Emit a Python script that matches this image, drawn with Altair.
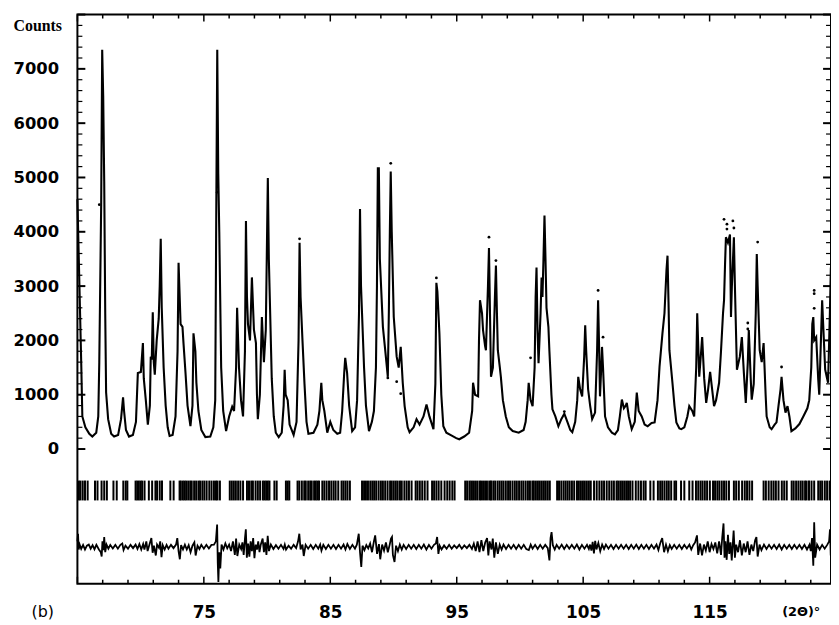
import altair as alt
import pandas as pd

# ---- calculated profile: (2theta, counts) vertices ----
calc_pts = [
    (65.00, 4600), (65.16, 3000), (65.31, 1500), (65.39, 600), (65.63, 400), (65.94, 280), (66.18, 230), (66.49, 300),
    (66.65, 600), (66.73, 1600), (66.88, 4500), (66.96, 7350), (67.04, 6500), (67.12, 4930), (67.20, 2500), (67.27, 1040),
    (67.43, 550), (67.67, 280), (67.90, 230), (68.22, 260), (68.45, 550), (68.61, 950), (68.69, 700), (68.84, 350),
    (69.08, 230), (69.39, 260), (69.63, 500), (69.78, 1400), (70.02, 1420), (70.18, 1950), (70.25, 1300), (70.41, 900),
    (70.57, 450), (70.73, 800), (70.80, 1700), (70.88, 1650), (70.96, 2520), (71.04, 1600), (71.12, 1370), (71.27, 2000),
    (71.43, 2400), (71.51, 3000), (71.59, 3870), (71.67, 2600), (71.82, 1500), (71.98, 800), (72.14, 400), (72.29, 240),
    (72.53, 260), (72.76, 600), (72.92, 1800), (73.00, 3430), (73.16, 2300), (73.31, 2250), (73.39, 1950), (73.55, 1400),
    (73.71, 800), (73.94, 420), (74.10, 800), (74.18, 2130), (74.33, 1800), (74.41, 1220), (74.57, 700), (74.80, 350),
    (75.12, 220), (75.51, 230), (75.75, 400), (75.90, 900), (75.98, 4300), (76.06, 7350), (76.14, 5070), (76.22, 4000),
    (76.37, 1500), (76.53, 700), (76.76, 330), (77.00, 600), (77.24, 780), (77.39, 700), (77.55, 1500), (77.63, 2600),
    (77.78, 1500), (77.94, 900), (78.10, 600), (78.25, 1800), (78.33, 4200), (78.41, 2800), (78.49, 2300), (78.65, 2000),
    (78.80, 3160), (78.96, 2200), (79.12, 1950), (79.20, 1000), (79.27, 550), (79.43, 1000), (79.59, 2430), (79.75, 1600),
    (79.90, 2200), (80.06, 4990), (80.14, 3500), (80.22, 2740), (80.37, 1300), (80.53, 600), (80.69, 300), (80.92, 220),
    (81.16, 300), (81.31, 800), (81.39, 1460), (81.47, 1000), (81.63, 900), (81.78, 450), (82.10, 260), (82.33, 500),
    (82.49, 2000), (82.57, 3800), (82.65, 2800), (82.80, 2000), (82.96, 1200), (83.12, 500), (83.27, 280), (83.67, 300),
    (83.98, 450), (84.14, 700), (84.29, 1220), (84.37, 900), (84.53, 700), (84.76, 300), (85.00, 500), (85.24, 350),
    (85.55, 280), (85.78, 300), (85.94, 700), (86.10, 1400), (86.18, 1680), (86.33, 1400), (86.49, 800), (86.73, 330),
    (86.96, 400), (87.12, 900), (87.27, 2500), (87.35, 4420), (87.43, 3000), (87.51, 2500), (87.67, 1500), (87.82, 800),
    (88.06, 330), (88.29, 500), (88.45, 700), (88.61, 1500), (88.69, 3000), (88.76, 5170), (88.84, 5170), (88.92, 3500),
    (89.16, 2250), (89.31, 1900), (89.55, 1330), (89.63, 2500), (89.71, 4000), (89.78, 5110), (89.86, 4000), (90.02, 2430),
    (90.25, 1700), (90.41, 1500), (90.57, 1880), (90.73, 1220), (90.88, 790), (91.12, 400), (91.27, 310), (91.59, 400),
    (91.82, 550), (92.06, 450), (92.37, 600), (92.61, 820), (92.84, 600), (93.16, 365), (93.31, 1200), (93.39, 3060),
    (93.47, 2900), (93.63, 2130), (93.78, 1000), (93.94, 420), (94.18, 300), (94.57, 250), (94.96, 200), (95.20, 180),
    (95.59, 230), (95.98, 300), (96.22, 700), (96.29, 1220), (96.45, 1000), (96.69, 970), (96.76, 2000), (96.84, 2740),
    (97.00, 2500), (97.08, 2190), (97.24, 1900), (97.31, 1820), (97.47, 3000), (97.55, 3700), (97.63, 2500), (97.71, 1330),
    (97.86, 1500), (98.02, 2800), (98.10, 3380), (98.18, 2500), (98.25, 1820), (98.41, 1500), (98.49, 1330), (98.65, 900),
    (98.88, 600), (99.12, 400), (99.43, 330), (99.90, 300), (100.29, 350), (100.45, 500), (100.61, 900), (100.69, 1220),
    (100.84, 900), (101.00, 790), (101.16, 1500), (101.24, 2800), (101.31, 3340), (101.39, 2200), (101.47, 1580), (101.63, 2500),
    (101.71, 3160), (101.78, 2800), (101.86, 3500), (101.94, 4300), (102.02, 3500), (102.10, 2600), (102.25, 2250), (102.33, 1800),
    (102.49, 1000), (102.57, 730), (102.80, 600), (103.04, 420), (103.27, 550), (103.51, 650), (103.75, 500), (103.98, 350),
    (104.14, 310), (104.37, 500), (104.53, 900), (104.61, 1330), (104.76, 1100), (104.92, 970), (105.08, 1700), (105.16, 2280),
    (105.24, 1800), (105.39, 1100), (105.55, 800), (105.71, 550), (105.94, 670), (106.10, 1800), (106.18, 2740), (106.25, 2000),
    (106.33, 970), (106.41, 1400), (106.49, 1880), (106.57, 1500), (106.73, 600), (106.96, 400), (107.27, 300), (107.51, 270),
    (107.75, 350), (107.90, 600), (108.06, 910), (108.22, 750), (108.37, 800), (108.45, 850), (108.61, 600), (108.84, 365),
    (109.08, 500), (109.24, 1040), (109.39, 700), (109.63, 600), (109.86, 450), (110.10, 420), (110.41, 480), (110.65, 490),
    (110.88, 900), (111.04, 1520), (111.27, 2130), (111.43, 2500), (111.59, 3300), (111.67, 3560), (111.75, 2700), (111.82, 1820),
    (112.06, 1220), (112.22, 800), (112.37, 490), (112.61, 380), (112.76, 365), (113.00, 400), (113.24, 600), (113.39, 790),
    (113.63, 700), (113.78, 600), (113.94, 1500), (114.02, 2500), (114.10, 1900), (114.18, 1330), (114.33, 1800), (114.41, 2060),
    (114.57, 1300), (114.73, 850), (114.88, 1100), (115.04, 1420), (115.20, 1100), (115.35, 790), (115.51, 900), (115.75, 1220),
    (115.90, 1800), (116.06, 2500), (116.14, 2740), (116.22, 3400), (116.29, 3900), (116.45, 3800), (116.61, 3950), (116.69, 2430),
    (116.76, 3000), (116.92, 3900), (117.00, 3000), (117.16, 1460), (117.39, 1700), (117.55, 2060), (117.71, 1400), (117.86, 850),
    (118.02, 1600), (118.10, 2190), (118.25, 1300), (118.33, 910), (118.49, 1200), (118.65, 2500), (118.73, 3590), (118.80, 3000),
    (118.96, 1820), (119.12, 1600), (119.27, 1950), (119.43, 1000), (119.51, 600), (119.75, 400), (119.90, 365), (120.14, 450),
    (120.29, 490), (120.45, 800), (120.61, 1100), (120.69, 1330), (120.84, 900), (121.00, 670), (121.16, 790), (121.31, 600),
    (121.47, 330), (121.78, 380), (122.10, 460), (122.41, 600), (122.73, 750), (122.88, 900), (123.04, 1500), (123.12, 2300),
    (123.20, 2430), (123.27, 2000), (123.43, 2060), (123.59, 1280), (123.67, 1000), (123.75, 1600), (123.90, 2740), (123.98, 2300),
    (124.14, 1460), (124.29, 1300), (124.37, 1220), (124.51, 2500), (124.59, 3340),
]
calc_t = [p[0] for p in calc_pts]
calc_c = [p[1] for p in calc_pts]

# ---- observed points that stand off the calculated line ----
obs_t = [66.73, 76.06, 82.57, 89.55, 89.78, 90.25, 90.57, 93.39, 97.55, 98.10, 100.84, 103.51,
         106.18, 106.57, 116.14, 116.37, 116.37, 116.84, 116.92, 118.02, 118.02, 118.80, 120.69,
         123.27, 123.27, 123.27]
obs_c = [4500, 4730, 3870, 1310, 5260, 1240, 1020, 3150, 3900, 3470, 1680, 690,
         2920, 2060, 4230, 4140, 4050, 4200, 4070, 2320, 2210, 3810, 1510,
         2920, 2860, 2590]

# ---- difference curve vertices (2theta, offset counts) ----
diff_pts = [
    (65.00, -1700), (65.05, -1560), (65.10, -1850), (65.18, -1760), (65.30, -1840), (65.45, -1765), (65.60, -1850), (65.75, -1780),
    (65.90, -1760), (66.05, -1835), (66.20, -1770), (66.35, -1845), (66.50, -1765), (66.70, -1850), (66.85, -1900), (66.92, -1980),
    (66.98, -1700), (67.05, -1860), (67.12, -1620), (67.20, -1900), (67.30, -1760), (67.45, -1835), (67.60, -1765), (67.80, -1830),
    (68.00, -1765), (68.20, -1835), (68.40, -1765), (68.55, -1740), (68.65, -1860), (68.80, -1780), (69.00, -1835), (69.20, -1765),
    (69.40, -1825), (69.60, -1760), (69.75, -1840), (69.90, -1750), (70.05, -1850), (70.20, -1750), (70.30, -1850), (70.45, -1700),
    (70.55, -1880), (70.70, -1760), (70.85, -1640), (70.95, -1910), (71.05, -1780), (71.20, -1960), (71.30, -1760), (71.45, -1820),
    (71.55, -1700), (71.65, -1990), (71.75, -1770), (71.90, -1850), (72.05, -1765), (72.20, -1835), (72.40, -1765), (72.60, -1825),
    (72.80, -1760), (72.90, -1640), (73.00, -1880), (73.10, -2030), (73.20, -1770), (73.35, -1850), (73.50, -1760), (73.65, -1850),
    (73.80, -1770), (73.95, -1900), (74.10, -1780), (74.25, -1720), (74.35, -1960), (74.50, -1780), (74.65, -1840), (74.80, -1765),
    (75.00, -1835), (75.20, -1765), (75.40, -1830), (75.60, -1765), (75.80, -1760), (75.95, -1700), (76.05, -1390), (76.10, -2100),
    (76.15, -2450), (76.22, -1900), (76.30, -2200), (76.40, -1760), (76.55, -1850), (76.70, -1740), (76.85, -1830), (77.00, -1760),
    (77.15, -1880), (77.30, -1700), (77.45, -1950), (77.55, -1650), (77.65, -1970), (77.80, -1760), (77.95, -1840), (78.05, -1720),
    (78.15, -1950), (78.25, -1650), (78.32, -1480), (78.40, -2000), (78.50, -1740), (78.60, -1980), (78.70, -1700), (78.80, -1880),
    (78.90, -1640), (79.00, -2010), (79.10, -1760), (79.20, -1850), (79.30, -1700), (79.40, -1900), (79.50, -1760), (79.65, -1650),
    (79.75, -1900), (79.85, -1720), (79.95, -1950), (80.05, -1600), (80.15, -1880), (80.30, -1760), (80.50, -1840), (80.70, -1770),
    (80.90, -1835), (81.10, -1765), (81.30, -1840), (81.40, -1760), (81.50, -1850), (81.70, -1780), (81.90, -1835), (82.10, -1765),
    (82.30, -1825), (82.45, -1700), (82.55, -1560), (82.65, -1850), (82.80, -1760), (82.90, -1970), (83.05, -1765), (83.25, -1835),
    (83.45, -1765), (83.65, -1840), (83.85, -1765), (84.05, -1835), (84.20, -1760), (84.30, -1870), (84.45, -1765), (84.65, -1840),
    (84.85, -1765), (85.05, -1835), (85.25, -1765), (85.45, -1840), (85.65, -1765), (85.85, -1835), (86.05, -1760), (86.20, -1850),
    (86.35, -1750), (86.55, -1840), (86.75, -1765), (86.95, -1835), (87.10, -1760), (87.25, -1560), (87.35, -1900), (87.45, -2170),
    (87.55, -1780), (87.70, -1860), (87.85, -1770), (88.00, -1830), (88.15, -1740), (88.30, -1900), (88.45, -1700), (88.55, -1590),
    (88.70, -1930), (88.85, -1750), (88.95, -2030), (89.10, -1760), (89.25, -1870), (89.40, -1720), (89.55, -1900), (89.70, -1760),
    (89.80, -1650), (89.88, -1620), (89.95, -1950), (90.08, -2080), (90.20, -1780), (90.35, -1880), (90.50, -1760), (90.65, -1850),
    (90.80, -1765), (91.00, -1840), (91.20, -1765), (91.40, -1835), (91.60, -1765), (91.80, -1840), (92.00, -1765), (92.20, -1835),
    (92.40, -1760), (92.60, -1850), (92.80, -1765), (93.00, -1835), (93.20, -1765), (93.35, -1740), (93.45, -1620), (93.55, -1930),
    (93.65, -1780), (93.80, -1850), (94.00, -1775), (94.20, -1835), (94.40, -1765), (94.60, -1835), (94.80, -1775), (95.00, -1825),
    (95.20, -1765), (95.40, -1835), (95.60, -1775), (95.80, -1825), (96.00, -1765), (96.20, -1840), (96.35, -1740), (96.50, -1880),
    (96.65, -1700), (96.80, -1900), (96.95, -1680), (97.10, -1880), (97.25, -1720), (97.40, -1640), (97.50, -1960), (97.60, -1700),
    (97.75, -1850), (97.85, -1650), (97.97, -2000), (98.10, -1720), (98.25, -1930), (98.40, -1760), (98.55, -1850), (98.70, -1760),
    (98.90, -1840), (99.10, -1765), (99.30, -1835), (99.50, -1765), (99.70, -1840), (99.90, -1765), (100.10, -1835), (100.30, -1765),
    (100.50, -1840), (100.70, -1860), (100.85, -1760), (101.00, -1835), (101.20, -1765), (101.40, -1840), (101.60, -1765), (101.80, -1835),
    (102.00, -1765), (102.20, -1825), (102.33, -2050), (102.42, -1640), (102.50, -1530), (102.60, -1770), (102.75, -1850), (102.90, -1765),
    (103.10, -1835), (103.30, -1760), (103.50, -1840), (103.70, -1765), (103.90, -1835), (104.10, -1765), (104.30, -1835), (104.50, -1760),
    (104.70, -1850), (104.90, -1765), (105.10, -1835), (105.30, -1765), (105.45, -1840), (105.55, -1760), (105.65, -1870), (105.75, -1710),
    (105.85, -1920), (105.95, -1690), (106.05, -1850), (106.20, -1730), (106.35, -1880), (106.50, -1760), (106.65, -1840), (106.80, -1760),
    (107.00, -1835), (107.20, -1765), (107.40, -1840), (107.60, -1765), (107.80, -1835), (108.00, -1765), (108.20, -1835), (108.40, -1765),
    (108.60, -1840), (108.80, -1765), (109.00, -1835), (109.20, -1760), (109.40, -1840), (109.60, -1765), (109.80, -1835), (110.00, -1765),
    (110.20, -1840), (110.40, -1765), (110.60, -1835), (110.80, -1760), (110.95, -1860), (111.10, -1730), (111.25, -1640), (111.40, -1900),
    (111.55, -1760), (111.70, -1880), (111.85, -1770), (112.00, -1840), (112.20, -1765), (112.40, -1835), (112.60, -1765), (112.80, -1840),
    (113.00, -1765), (113.20, -1830), (113.40, -1760), (113.55, -1850), (113.70, -1770), (113.85, -1720), (114.00, -1590), (114.10, -1950),
    (114.25, -1740), (114.40, -1960), (114.55, -1760), (114.70, -1870), (114.85, -1700), (115.00, -1900), (115.15, -1750), (115.30, -1840),
    (115.45, -1720), (115.60, -1920), (115.75, -1700), (115.90, -1950), (116.00, -1620), (116.10, -1370), (116.18, -2000), (116.25, -1700),
    (116.35, -2040), (116.45, -1580), (116.55, -1930), (116.65, -1720), (116.75, -2050), (116.90, -1500), (117.00, -2000), (117.10, -1760),
    (117.25, -1900), (117.40, -1680), (117.55, -1960), (117.70, -1740), (117.85, -1900), (118.00, -1700), (118.15, -1950), (118.30, -1760),
    (118.45, -1880), (118.60, -1680), (118.70, -1620), (118.80, -1980), (118.95, -1760), (119.10, -1860), (119.30, -1760), (119.50, -1840),
    (119.70, -1765), (119.90, -1835), (120.10, -1765), (120.30, -1840), (120.50, -1760), (120.70, -1850), (120.90, -1765), (121.10, -1835),
    (121.30, -1765), (121.50, -1840), (121.70, -1765), (121.90, -1835), (122.10, -1765), (122.30, -1840), (122.50, -1765), (122.70, -1850),
    (122.90, -1760), (123.00, -1880), (123.10, -1640), (123.20, -2150), (123.27, -1350), (123.35, -2000), (123.50, -1760), (123.70, -1850),
    (123.90, -1765), (124.10, -1835), (124.30, -1765), (124.45, -1700), (124.52, -1480), (124.58, -1960),
]
diff_t = [p[0] for p in diff_pts]
diff_c = [p[1] for p in diff_pts]

# ---- Bragg reflection positions (2theta) ----
bragg_t = [65.12, 65.24, 65.42, 65.60, 65.81, 66.39, 66.59, 66.91, 67.12, 67.33, 67.85, 68.11, 68.63, 68.82, 68.95,
           69.60, 69.73, 69.86, 70.00, 70.12, 70.31, 70.65, 70.91, 71.17, 71.30, 71.51, 71.69, 72.35, 72.61,
           73.08, 73.18, 73.34, 73.47, 73.60, 73.76, 73.92, 74.04, 74.23, 74.39, 74.57, 74.70, 74.88, 75.04, 75.22,
           75.43, 75.61, 75.80, 75.96, 76.08, 76.27, 77.05, 77.21, 77.37, 77.53, 77.71, 77.89, 78.10, 78.41, 78.57,
           78.75, 78.88, 79.09, 79.27, 79.45, 79.67, 79.80, 79.93, 80.06, 80.19, 80.58, 80.76, 81.49, 81.63, 81.76,
           82.41, 82.55, 82.75, 82.94, 83.06, 83.25, 83.41, 83.53, 83.72, 83.85, 83.98, 84.11, 84.37, 84.53, 84.71,
           84.90, 85.08, 85.26, 85.42, 85.63, 85.89, 86.04, 86.20, 86.36, 86.55, 87.51, 87.67, 87.82, 87.98, 88.16,
           88.32, 88.47, 88.63, 88.82, 89.00, 89.16, 89.34, 89.53, 89.73, 89.86, 90.02, 90.18, 90.33, 90.51, 90.65,
           90.86, 91.04, 91.22, 91.43, 91.75, 91.90, 92.08, 92.27, 92.47, 92.69, 93.05, 93.21, 93.39, 93.57, 93.78,
           94.04, 94.25, 94.44, 94.65, 94.83, 95.67, 95.82, 96.00, 96.14, 96.29, 96.45, 96.61, 96.79, 96.92, 97.08,
           97.24, 97.39, 97.57, 97.71, 97.89, 98.04, 98.23, 98.39, 98.55, 98.70, 98.88, 99.06, 99.22, 99.41, 99.59,
           99.75, 99.93, 100.11, 100.27, 100.45, 100.63, 100.79, 100.98, 101.10, 101.26, 101.42, 101.57, 101.73, 101.89,
           102.04, 102.20, 102.36, 102.94, 103.09, 103.27, 103.45, 103.61, 103.77, 103.93, 104.11, 104.29, 104.51,
           104.66, 104.82, 104.98, 105.13, 105.29, 105.45, 105.60, 105.86, 106.07, 106.28, 106.47, 106.65, 106.86,
           107.06, 107.25, 107.43, 107.64, 107.77, 107.93, 108.08, 108.24, 108.40, 108.55, 108.71, 108.90, 109.16,
           109.37, 109.57, 109.78, 109.94, 110.31, 110.57, 110.91, 111.09, 111.25, 111.43, 111.61, 111.77, 111.96,
           112.22, 112.35, 112.74, 113.00, 113.39, 113.65, 113.92, 114.10, 114.28, 114.44, 114.62, 114.80, 115.02,
           115.27, 115.43, 115.61, 115.77, 115.96, 116.14, 116.32, 116.53, 116.92, 117.10, 117.31, 117.57, 117.78,
           117.96, 118.15, 118.36, 119.27, 119.45, 119.67, 119.88, 120.06, 120.24, 120.45, 120.71, 120.90, 121.10,
           121.49, 121.65, 121.84, 122.02, 122.20, 122.36, 122.55, 122.67, 122.86, 123.06, 123.27, 123.59, 123.75,
           123.90, 124.11, 124.29, 124.49]

# ---- axis tick values ----
x_labels = [75, 85, 95, 105, 115]
x_major_ticks = [65, 75, 85, 95, 105, 115]
x_minor_ticks = [67, 69, 71, 73, 77, 79, 81, 83, 87, 89, 91, 93, 97, 99, 101, 103, 107, 109, 111, 113, 117, 119, 121, 123]
y_labels = [0, 1000, 2000, 3000, 4000, 5000, 6000, 7000]
y_major_ticks = [0, 1000, 2000, 3000, 4000, 5000, 6000, 7000, 8000]
y_minor_ticks = [v for v in range(200, 8000, 200) if v % 1000 != 0]

X_DOMAIN = [65, 124.6]
Y_DOMAIN = [-2480, 8000]
W, H = 760, 574

xs = alt.Scale(domain=X_DOMAIN, nice=False, zero=False)
ys = alt.Scale(domain=Y_DOMAIN, nice=False, zero=False)

calc_df = pd.DataFrame({"t": calc_t, "c": calc_c})
obs_df = pd.DataFrame({"t": obs_t, "c": obs_c})
diff_df = pd.DataFrame({"t": diff_t, "c": diff_c})
bragg_df = pd.DataFrame({"t": bragg_t})

lab_font = "DejaVu Sans"

calc_line = alt.Chart(calc_df).mark_line(color="black", strokeWidth=2.1).encode(
    x=alt.X("t:Q", scale=xs,
            axis=alt.Axis(values=x_labels, title=None, grid=False, domain=False, ticks=False, tickSize=0,
                          labelPadding=21, labelFont=lab_font, labelFontWeight="bold", labelFontSize=17,
                          labelColor="black", format="d")),
    y=alt.Y("c:Q", scale=ys,
            axis=alt.Axis(values=y_labels, title=None, grid=False, domain=False, ticks=False, tickSize=0,
                          labelPadding=19, labelFont=lab_font, labelFontWeight="bold", labelFontSize=16.5,
                          labelColor="black", format="d")),
)

obs_pts = alt.Chart(obs_df).mark_circle(color="black", size=8, opacity=1).encode(
    x=alt.X("t:Q", scale=xs), y=alt.Y("c:Q", scale=ys))

diff_line = alt.Chart(diff_df).mark_line(color="black", strokeWidth=1.8).encode(
    x=alt.X("t:Q", scale=xs), y=alt.Y("c:Q", scale=ys))

bragg = alt.Chart(bragg_df).mark_rule(color="black", strokeWidth=2).encode(
    x=alt.X("t:Q", scale=xs), y=alt.value(470), y2=alt.value(490))

def xticks(vals, length):
    d = pd.DataFrame({"t": vals})
    bottom = alt.Chart(d).mark_rule(color="black", strokeWidth=1.5).encode(
        x=alt.X("t:Q", scale=xs), y=alt.value(H), y2=alt.value(H - length))
    top = alt.Chart(d).mark_rule(color="black", strokeWidth=1.5).encode(
        x=alt.X("t:Q", scale=xs), y=alt.value(0), y2=alt.value(length))
    return bottom + top

def yticks(vals, length, sw):
    d = pd.DataFrame({"c": vals})
    left = alt.Chart(d).mark_rule(color="black", strokeWidth=sw).encode(
        y=alt.Y("c:Q", scale=ys), x=alt.value(0), x2=alt.value(length))
    right = alt.Chart(d).mark_rule(color="black", strokeWidth=sw).encode(
        y=alt.Y("c:Q", scale=ys), x=alt.value(W), x2=alt.value(W - length))
    return left + right

counts_txt = alt.Chart(pd.DataFrame({"s": ["Counts"]})).mark_text(
    font="Liberation Serif", fontWeight="bold", fontSize=16, align="center", baseline="alphabetic", color="black"
).encode(text="s:N", x=alt.value(-40), y=alt.value(17))

b_txt = alt.Chart(pd.DataFrame({"s": ["(b)"]})).mark_text(
    font=lab_font, fontSize=16, align="center", baseline="alphabetic", color="black"
).encode(text="s:N", x=alt.value(-35), y=alt.value(608))

unit_txt = alt.Chart(pd.DataFrame({"s": ["(2Θ)°"]})).mark_text(
    font=lab_font, fontWeight="bold", fontSize=13, align="center", baseline="alphabetic", color="black"
).encode(text="s:N", x=alt.value(730), y=alt.value(607))

chart = alt.layer(
    bragg, diff_line, calc_line, obs_pts,
    xticks(x_minor_ticks, 4), xticks(x_major_ticks, 7),
    yticks(y_minor_ticks, 5, 1.2), yticks(y_major_ticks, 8, 2),
    counts_txt, b_txt, unit_txt,
).properties(
    width=W, height=H,
    padding={"left": 70, "top": 4, "right": 0, "bottom": 35},
    autosize=alt.AutoSizeParams(type="none"),
    background="white",
).configure_view(
    stroke="black", strokeWidth=2
)

chart.save("out.html", embed_options={"renderer": "svg", "actions": False})
